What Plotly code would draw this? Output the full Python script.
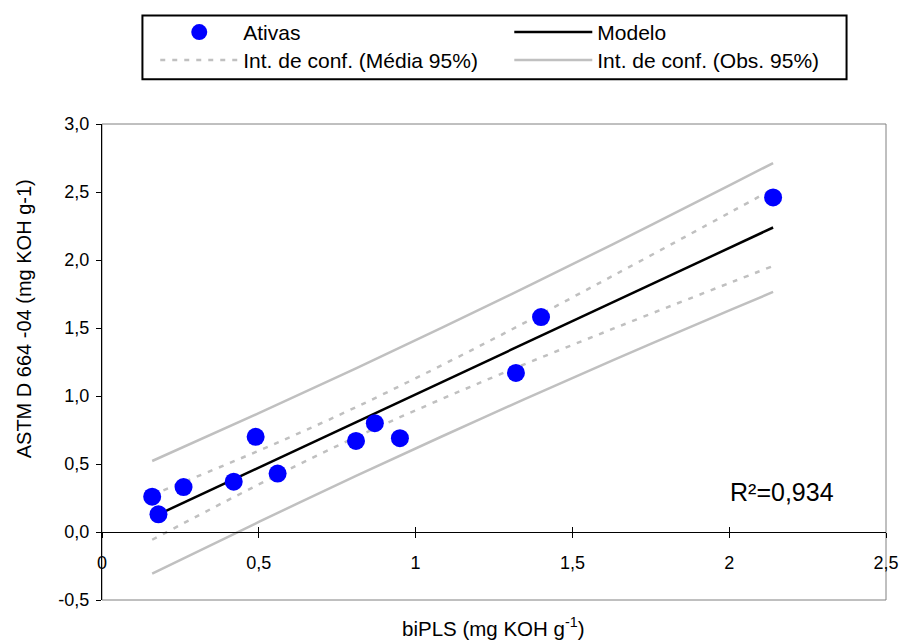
import plotly.graph_objects as go

# ---- data ----
x_ativas = [0.16, 0.18, 0.26, 0.42, 0.49, 0.56, 0.81, 0.87, 0.95, 1.32, 1.40, 2.14]
y_ativas = [0.26, 0.13, 0.33, 0.37, 0.70, 0.43, 0.67, 0.80, 0.69, 1.17, 1.58, 2.46]

x_model = [0.16, 2.14]
y_model = [0.108, 2.239]

x_band = [0.16, 0.50, 0.81, 1.22, 1.63, 2.01, 2.14]
upper_obs = [0.522, 0.874, 1.204, 1.653, 2.117, 2.559, 2.713]
upper_mean = [0.273, 0.598, 0.918, 1.386, 1.885, 2.359, 2.522]
lower_mean = [-0.057, 0.350, 0.698, 1.112, 1.495, 1.839, 1.956]
lower_obs = [-0.306, 0.074, 0.412, 0.845, 1.263, 1.639, 1.765]

x_tickvals = [0, 0.5, 1, 1.5, 2, 2.5]
x_ticktext = ["0", "0,5", "1", "1,5", "2", "2,5"]
y_tickvals = [-0.5, 0, 0.5, 1.0, 1.5, 2.0, 2.5, 3.0]
y_ticktext = ["-0,5", "0,0", "0,5", "1,0", "1,5", "2,0", "2,5", "3,0"]

r2_text = "R²=0,934"

GRAY = "#c0c0c0"
FONT = "Liberation Sans, Arial, sans-serif"

fig = go.Figure()

fig.add_trace(go.Scatter(x=x_band, y=lower_obs, mode="lines", line=dict(color=GRAY, width=2.5, shape="spline"),
                         showlegend=False, xaxis="x2", hoverinfo="skip"))
fig.add_trace(go.Scatter(x=x_band, y=upper_obs, mode="lines", line=dict(color=GRAY, width=2.5, shape="spline"),
                         name="Int. de conf. (Obs. 95%)", legend="legend4", hoverinfo="skip"))
fig.add_trace(go.Scatter(x=x_band, y=lower_mean, mode="lines",
                         line=dict(color=GRAY, width=2.5, dash="5px,7px", shape="spline"),
                         showlegend=False, hoverinfo="skip"))
fig.add_trace(go.Scatter(x=x_band, y=upper_mean, mode="lines",
                         line=dict(color=GRAY, width=2.5, dash="5px,7px", shape="spline"),
                         name="Int. de conf. (Média 95%)", legend="legend2", hoverinfo="skip"))
fig.add_trace(go.Scatter(x=x_model, y=y_model, mode="lines", line=dict(color="black", width=2.5),
                         name="Modelo", legend="legend3", hoverinfo="skip"))
fig.add_trace(go.Scatter(x=x_ativas, y=y_ativas, mode="markers",
                         marker=dict(color="#0000ff", size=18, line=dict(width=0)),
                         name="Ativas", legend="legend"))

L, R, T, B = 102, 14, 122, 44
W, H = 911, 644
pw, ph = W - L - R, H - T - B

def px(xp):
    return (xp - L) / pw

def py(yp):
    return (T + ph - yp) / ph

xpos = 0.5 / 3.5

def leg(xp, yp):
    return dict(x=px(xp), y=py(yp), xanchor="left", yanchor="middle", orientation="v",
                bgcolor="rgba(0,0,0,0)", borderwidth=0, itemwidth=78, font=dict(size=21))

fig.update_layout(
    width=W, height=H,
    margin=dict(l=L, r=R, t=T, b=B),
    paper_bgcolor="white", plot_bgcolor="white",
    separators=",.",
    font=dict(family=FONT, size=18, color="black"),
    xaxis=dict(range=[0, 2.5], anchor="free", position=xpos, showline=True, linecolor="black", linewidth=1,
               ticks="outside", ticklen=5, tickcolor="black", tickvals=x_tickvals, ticktext=x_ticktext,
               showgrid=False, zeroline=False, ticklabelstandoff=9, tickfont=dict(size=18)),
    xaxis2=dict(range=[0, 2.5], overlaying="x", anchor="free", position=xpos, showline=False,
                ticks="inside", ticklen=5, tickcolor="black", tickvals=x_tickvals,
                showticklabels=False, showgrid=False, zeroline=False),
    yaxis=dict(range=[-0.5, 3.0], showline=True, linecolor="black", linewidth=1, ticks="outside", ticklen=5,
               tickcolor="black", tickvals=y_tickvals, ticktext=y_ticktext, showgrid=False, zeroline=False,
               ticklabelstandoff=3, tickfont=dict(size=18)),
    legend=leg(156, 30),
    legend2=leg(156, 58),
    legend3=leg(515, 30),
    legend4=leg(515, 58),
    showlegend=True,
    shapes=[
        dict(type="rect", xref="paper", yref="paper", x0=0, x1=1, y0=0, y1=1,
             line=dict(color="#808080", width=1), layer="below"),
        dict(type="rect", xref="paper", yref="paper", x0=px(143), x1=px(857), y0=py(77), y1=py(13),
             line=dict(color="black", width=2)),
    ],
    annotations=[
        dict(text="biPLS (mg KOH g<sup>-1</sup>)", xref="paper", yref="paper", x=px(499), y=py(627),
             xanchor="center", yanchor="middle", showarrow=False, font=dict(size=20.5)),
        dict(text="ASTM D 664 -04 (mg KOH g-1)", xref="paper", yref="paper", x=px(23), y=py(318),
             xanchor="center", yanchor="middle", showarrow=False, textangle=-90, font=dict(size=20)),
        dict(text=r2_text, xref="paper", yref="paper", x=px(792), y=py(492),
             xanchor="center", yanchor="middle", showarrow=False, font=dict(size=25)),
    ],
)

fig.write_html("out.html")
